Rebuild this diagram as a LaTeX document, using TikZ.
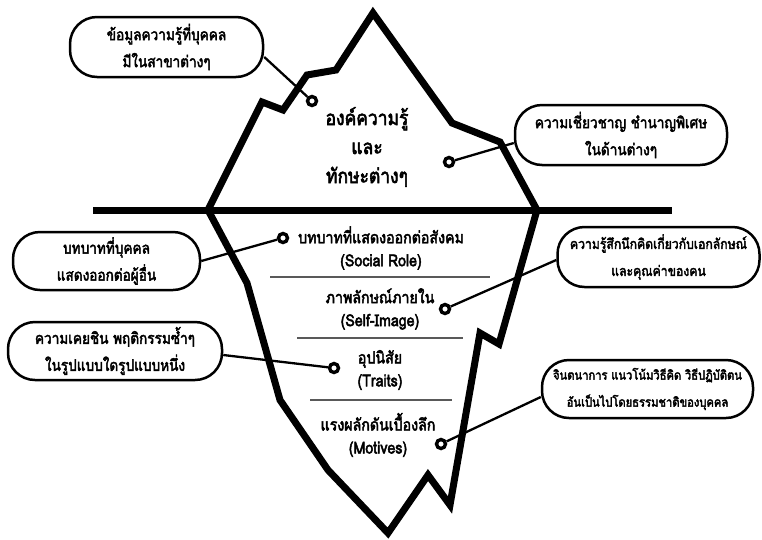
\documentclass[tikz,border=0pt]{standalone}
\usepackage{fontspec}
\newfontfamily\thaifont[Script=Thai, AutoFakeBold=2.8, FakeStretch=0.86]{Loma}

\tikzset{
  outline/.style={line width=7pt, line join=miter, miter limit=10},
  waterline/.style={line width=7pt},
  callout/.style={draw, line width=2.5pt, rounded corners=27pt, fill=white,
    align=center, inner sep=0pt,
    font=\thaifont\bfseries\fontsize{15.8}{27}\selectfont},
  small text/.style={font=\thaifont\bfseries\fontsize{14.2}{27}\selectfont},
  tiny text/.style={font=\thaifont\bfseries\fontsize{13}{27}\selectfont},
  marker/.style={circle, draw, line width=3.4pt, fill=white,
    minimum size=9pt, inner sep=0pt},
  link/.style={line width=2.3pt},
  layer/.style={align=center, inner sep=0pt,
    font=\thaifont\bfseries\fontsize{16.5}{23}\selectfont},
  peak/.style={align=center, inner sep=0pt,
    font=\thaifont\bfseries\fontsize{20.3}{29}\selectfont},
  divider/.style={line width=1.4pt, black!65},
}

\begin{document}
\begin{tikzpicture}[x=1pt, y=-1pt]
\useasboundingbox (0,0) rectangle (762,539);

% water surface
\coordinate (wl) at (93,210);
\coordinate (wr) at (672,210);
\draw[waterline] (wl) -- (wr);

% iceberg outline, above and below the water
\draw[outline]
  (208,210) -- (262,102) -- (283,110) -- (307,75) -- (336,70) -- (373,13)
  -- (452,123) -- (500,142) -- (537,210)
  -- (499,344) -- (480,333) -- (450,505) -- (428,475) -- (388,533)
  -- (328,470) -- (280,400) -- (247,283) -- cycle;

% dividers between the hidden layers
\coordinate (d1a) at (270,277); \coordinate (d1b) at (490,277);
\coordinate (d2a) at (297,338); \coordinate (d2b) at (463,338);
\coordinate (d3a) at (310,400); \coordinate (d3b) at (452,400);
\draw[divider] (d1a) -- (d1b);
\draw[divider] (d2a) -- (d2b);
\draw[divider] (d3a) -- (d3b);

% visible part
\node[peak] (top) at (367,147) {องค์ความรู้\\และ\\ทักษะต่างๆ};

% hidden layers
\node[layer] (l1) at (381,248) {บทบาทที่แสดงออกต่อสังคม\\(Social Role)};
\node[layer] (l2) at (380,309) {ภาพลักษณ์ภายใน\\(Self-Image)};
\node[layer] (l3) at (380,370) {อุปนิสัย\\(Traits)};
\node[layer] (l4) at (378,435) {แรงผลักดันเบื้องลึก\\(Motives)};

% explanation boxes
\node[callout, minimum width=193pt, minimum height=60pt] (b1) at (166.5,47)
  {ข้อมูลความรู้ที่บุคคล\\มีในสาขาต่างๆ};
\node[callout, minimum width=212pt, minimum height=60pt] (b2) at (621,135)
  {ความเชี่ยวชาญ ชำนาญพิเศษ\\ในด้านต่างๆ};
\node[callout, minimum width=187pt, minimum height=58pt] (b3) at (106.5,261)
  {บทบาทที่บุคคล\\แสดงออกต่อผู้อื่น};
\node[callout, minimum width=214pt, minimum height=58pt] (b4) at (115,351)
  {ความเคยชิน พฤติกรรมซ้ำๆ\\ในรูปแบบใดรูปแบบหนึ่ง};
\node[callout, small text, minimum width=202pt, minimum height=60pt] (b5) at (658.5,257)
  {ความรู้สึกนึกคิดเกี่ยวกับเอกลักษณ์\\และคุณค่าของคน};
\node[callout, tiny text, minimum width=211pt, minimum height=58pt] (b6) at (647.5,389)
  {จินตนาการ แนวโน้มวิธีคิด วิธีปฏิบัติตน\\อันเป็นไปโดยธรรมชาติของบุคคล};

% markers
\node[marker] (c1) at (312,101) {};
\node[marker] (c2) at (449,162) {};
\node[marker] (c3) at (283,238) {};
\node[marker] (c4) at (334,368) {};
\node[marker] (c5) at (445,309) {};
\node[marker] (c6) at (441,444) {};

% connectors
\draw[link] ([yshift=-10pt]b1.east) -- (c1);
\draw[link] ([yshift=-8pt]b2.west) -- (c2);
\draw[link] (b3.east) -- (c3);
\draw[link] ([yshift=-4pt]b4.east) -- (c4);
\draw[link] ([yshift=-3pt]b5.west) -- (c5);
\draw[link] ([yshift=-8pt]b6.west) -- (c6);
\end{tikzpicture}
\end{document}
